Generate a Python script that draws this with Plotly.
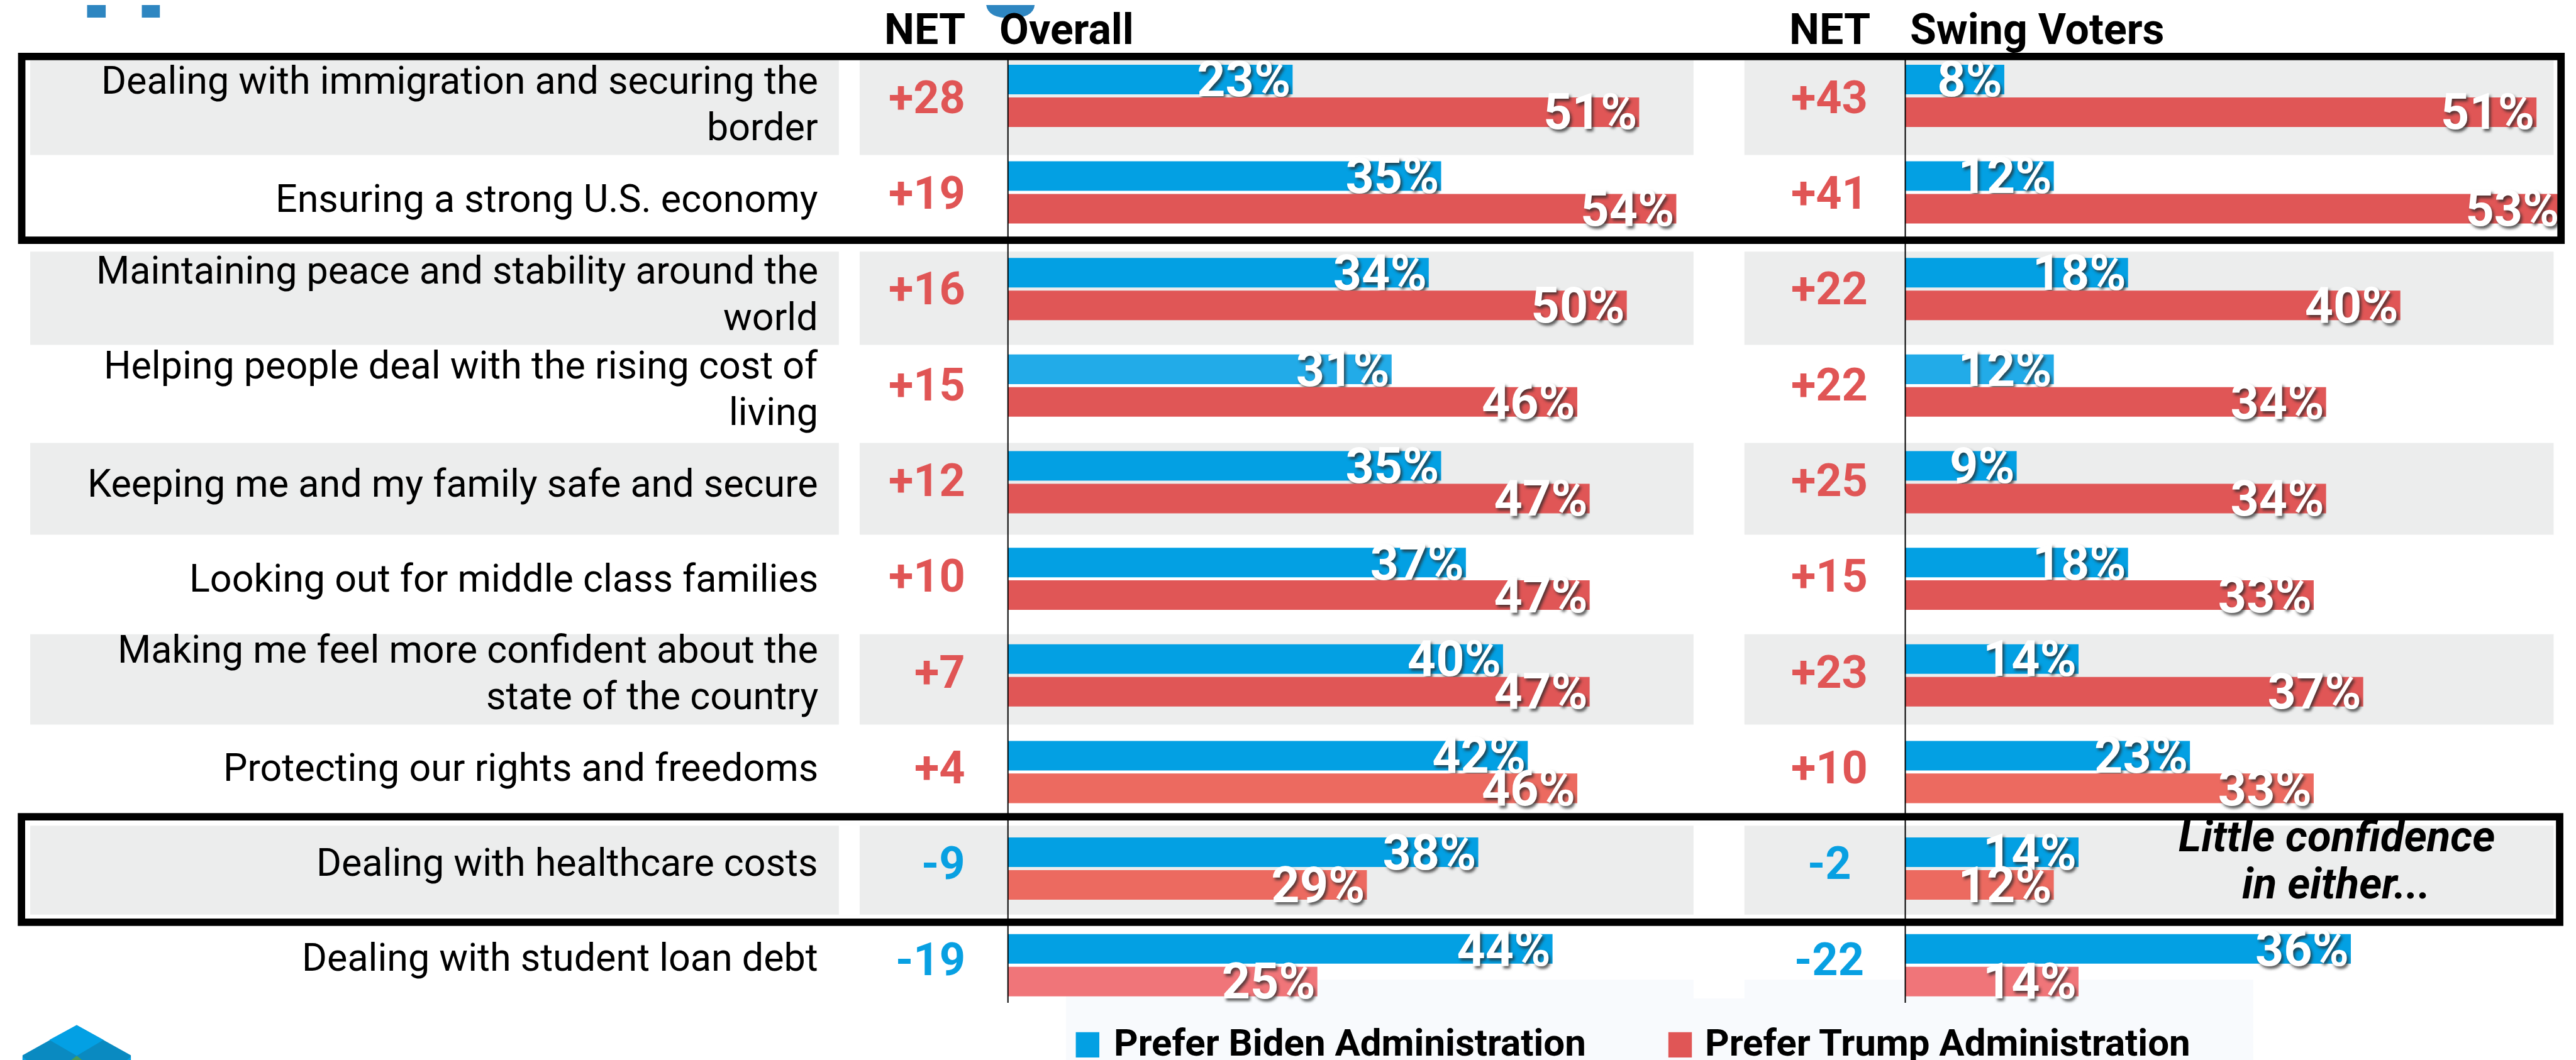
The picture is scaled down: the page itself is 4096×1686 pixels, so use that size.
import plotly.graph_objects as go

# ---------------- data ----------------
categories = [
    "Dealing with immigration and securing the<br>border",
    "Ensuring a strong U.S. economy",
    "Maintaining peace and stability around the<br>world",
    "Helping people deal with the rising cost of<br>living",
    "Keeping me and my family safe and secure",
    "Looking out for middle class families",
    "Making me feel more confident about the<br>state of the country",
    "Protecting our rights and freedoms",
    "Dealing with healthcare costs",
    "Dealing with student loan debt",
]
overall_biden = [23, 35, 34, 31, 35, 37, 40, 42, 38, 44]
overall_trump = [51, 54, 50, 46, 47, 47, 47, 46, 29, 25]
overall_net = [28, 19, 16, 15, 12, 10, 7, 4, -9, -19]
swing_biden = [8, 12, 18, 12, 9, 18, 14, 23, 14, 36]
swing_trump = [51, 53, 40, 34, 34, 33, 37, 33, 12, 14]
swing_net = [43, 41, 22, 22, 25, 15, 23, 10, -2, -22]
column_titles = ["Overall", "Swing Voters"]
net_title = "NET"
legend_labels = ["Prefer Biden Administration", "Prefer Trump Administration"]
note_text = "Little confidence<br>in either..."

# ---------------- styles ----------------
biden_colors = ["#03a0e3", "#03a0e3", "#03a0e3", "#22abe8", "#03a0e3",
                "#03a0e3", "#03a0e3", "#03a0e3", "#03a0e3", "#03a0e3"]
trump_colors = ["#e05656", "#e05656", "#e05656", "#e05656", "#e05656",
                "#e05656", "#e05656", "#ec6a60", "#ec6a60", "#f07579"]
NET_RED = "#e05555"
NET_BLUE = "#08a0e2"
BAND = "#eceded"
FONT = "Roboto"

# ---------------- geometry (reference pixels scaled by S) ----------------
W, H = 4096, 1686
S = 0.87
PPP = 22.62 * S            # pixels per percentage point
X0_OVERALL = 1833 * S      # zero line of the Overall panel
X0_SWING = 3473 * S        # zero line of the Swing panel
ROW = 176.6 * S            # pixels per row
Y0 = 166 * S               # centre of the first row


def px(p):
    return p * S / W


def py(p):
    return 1 - p * S / H


n = len(categories)
rows = list(range(n))
bw = 0.306

fig = go.Figure()

pct_font = dict(family=FONT, size=79, color="white", weight=700,
                shadow="3px 4px 4px rgba(40,40,40,0.75)")


def add_bars(vals, colors, offset, axis):
    fig.add_trace(go.Bar(
        x=vals, y=rows, orientation="h", xaxis=axis, yaxis="y",
        width=bw, offset=offset,
        marker=dict(color=colors, line=dict(width=0)),
        text=[f"{v}%" for v in vals], textposition="inside",
        insidetextanchor="end", textangle=0, constraintext="none",
        textfont=pct_font, cliponaxis=False,
        showlegend=False, hoverinfo="skip"))


add_bars(overall_biden, biden_colors, -0.322, "x")
add_bars(overall_trump, trump_colors, 0.016, "x")
add_bars(swing_biden, biden_colors, -0.322, "x2")
add_bars(swing_trump, trump_colors, 0.016, "x2")

shapes = []
# faint legend backdrop
for x0, x1, y0, y1 in [(1939, 4109, 1816, 1938), (1939, 3086, 1782, 1816),
                       (3179, 4109, 1782, 1816)]:
    shapes.append(dict(type="rect", xref="paper", yref="paper", layer="below",
                       x0=px(x0), x1=px(x1), y0=py(y0), y1=py(y1),
                       fillcolor="#f8fafd", line=dict(width=0)))
# alternating grey bands
for r in range(0, n, 2):
    top = 101 + 174.9 * r
    bot = 274 + 173.6 * r
    for x0, x1 in [(46, 1524), (1562, 3086), (3179, 4658)]:
        shapes.append(dict(type="rect", xref="paper", yref="paper", layer="below",
                           x0=px(x0), x1=px(x1), y0=py(bot), y1=py(top),
                           fillcolor=BAND, line=dict(width=0)))
# zero lines of both panels
for ax in ["x", "x2"]:
    shapes.append(dict(type="line", xref=ax, yref="paper", x0=0, x1=0,
                       y0=py(1824), y1=py(96), line=dict(color="black", width=2)))
# highlight boxes
for x0, x1, y0, y1 in [(30.5, 4671.5, 94, 430), (30, 4669, 1484, 1677)]:
    shapes.append(dict(type="rect", xref="paper", yref="paper",
                       x0=px(x0), x1=px(x1), y0=py(y1), y1=py(y0),
                       line=dict(color="black", width=13.5 * S)))
# legend swatches
for x0, x1, c in [(1957, 2000, "#03a0e3"), (3040, 3083, "#e05656")]:
    shapes.append(dict(type="rect", xref="paper", yref="paper",
                       x0=px(x0), x1=px(x1), y0=py(1924), y1=py(1878),
                       fillcolor=c, line=dict(width=0)))


def path(points):
    return "M " + " L ".join(f"{px(a):.5f},{py(b):.5f}" for a, b in points) + " Z"


# logo fragment (bottom left)
logo = [
    ([(131, 1865), (230, 1920), (230, 1945), (32, 1945), (32, 1920)], "#0a8ac1"),
    ([(131, 1865), (180, 1892), (131, 1921), (81, 1892)], "#03a0e4"),
    ([(131, 1921), (161, 1945), (101, 1945)], "#4a9a5a"),
    ([(32, 1923), (60, 1945), (32, 1945)], "#03a0e4"),
    ([(230, 1923), (202, 1945), (230, 1945)], "#03a0e4"),
]
for pts, c in logo:
    shapes.append(dict(type="path", xref="paper", yref="paper", path=path(pts),
                       fillcolor=c, line=dict(width=0)))
# cut-off title fragments at the top edge
for x0, x1 in [(150, 184), (250, 283)]:
    shapes.append(dict(type="rect", xref="paper", yref="paper",
                       x0=px(x0), x1=px(x1), y0=py(23), y1=py(-5),
                       fillcolor="#2e86c1", line=dict(width=0)))
shapes.append(dict(type="path", xref="paper", yref="paper",
                   path=(f"M {px(1793)},{py(-2)} Q {px(1795)},{py(24)} {px(1837)},{py(24)} "
                         f"Q {px(1881)},{py(24)} {px(1882)},{py(-2)} Z"),
                   fillcolor="#2e86c1", line=dict(width=0)))

annotations = []
ANCHOR_BIAS = 9  # plotly's middle anchor sits a little below the cap centre
LINE_GAP = 85 * S
# row labels (each line placed separately to keep the tight line spacing)
for i, lab in enumerate(categories):
    lines = lab.split("<br>")
    centre = -(25.1 - 3.2 * i) * S + ANCHOR_BIAS
    k = len(lines)
    for j, line in enumerate(lines):
        off = (j - (k - 1) / 2) * LINE_GAP
        annotations.append(dict(
            x=px(1488), xref="paper", y=i, yref="y", yshift=centre - off,
            text=line, showarrow=False, xanchor="right", yanchor="middle",
            align="right", font=dict(family=FONT, size=61, color="black")))
# NET values
for i, (a, b) in enumerate(zip(overall_net, swing_net)):
    shift = -(14.9 - 1.55 * i) * S + 10
    annotations.append(dict(
        x=px(1757), xref="paper", y=i, yref="y", yshift=shift,
        text=f"{a:+d}", showarrow=False, xanchor="right", yanchor="middle",
        font=dict(family=FONT, size=72, weight=700,
                  color=NET_RED if a > 0 else NET_BLUE)))
    annotations.append(dict(
        x=px(3334), xref="paper", y=i, yref="y", yshift=shift,
        text=f"{b:+d}", showarrow=False, xanchor="center", yanchor="middle",
        font=dict(family=FONT, size=72, weight=700,
                  color=NET_RED if b > 0 else NET_BLUE)))
# headers
hdr = dict(family=FONT, size=68, weight=700, color="black")
HY = py(51) + 5 / H
annotations += [
    dict(x=px(1758), y=HY, xref="paper", yref="paper", text=net_title,
         showarrow=False, xanchor="right", yanchor="middle", font=hdr),
    dict(x=px(1815), y=HY, xref="paper", yref="paper", text=column_titles[0],
         showarrow=False, xanchor="left", yanchor="middle", font=hdr),
    dict(x=px(3335), y=HY, xref="paper", yref="paper", text=net_title,
         showarrow=False, xanchor="center", yanchor="middle", font=hdr),
    dict(x=px(3479), y=HY, xref="paper", yref="paper", text=column_titles[1],
         showarrow=False, xanchor="left", yanchor="middle", font=hdr),
]
# note in the healthcare row (two lines placed separately)
note_font = dict(family=FONT, size=69, weight=700, style="italic", color="black")
for line, yref_px in zip(note_text.split("<br>"), [1530, 1617]):
    annotations.append(dict(
        x=px(4261), xref="paper", y=py(yref_px) + 9 / H, yref="paper",
        text=line, showarrow=False, xanchor="center", yanchor="middle",
        font=note_font))
# legend labels
leg = dict(family=FONT, size=60, weight=700, color="black")
LY = 1 - 1650 / H
annotations += [
    dict(x=px(2024), y=LY, xref="paper", yref="paper", text=legend_labels[0],
         showarrow=False, xanchor="left", yanchor="middle", font=leg),
    dict(x=px(3105), y=LY, xref="paper", yref="paper", text=legend_labels[1],
         showarrow=False, xanchor="left", yanchor="middle", font=leg),
]

fig.update_layout(
    width=W, height=H, margin=dict(l=0, r=0, t=0, b=0),
    paper_bgcolor="white", plot_bgcolor="rgba(0,0,0,0)",
    barmode="overlay", showlegend=False,
    xaxis=dict(range=[-X0_OVERALL / PPP, (W - X0_OVERALL) / PPP], visible=False,
               domain=[0, 1], fixedrange=True),
    xaxis2=dict(range=[-X0_SWING / PPP, (W - X0_SWING) / PPP], visible=False,
                overlaying="x", fixedrange=True),
    yaxis=dict(range=[(H - Y0) / ROW, -Y0 / ROW], visible=False, fixedrange=True),
    shapes=shapes, annotations=annotations,
)

fig.write_html("out.html")
